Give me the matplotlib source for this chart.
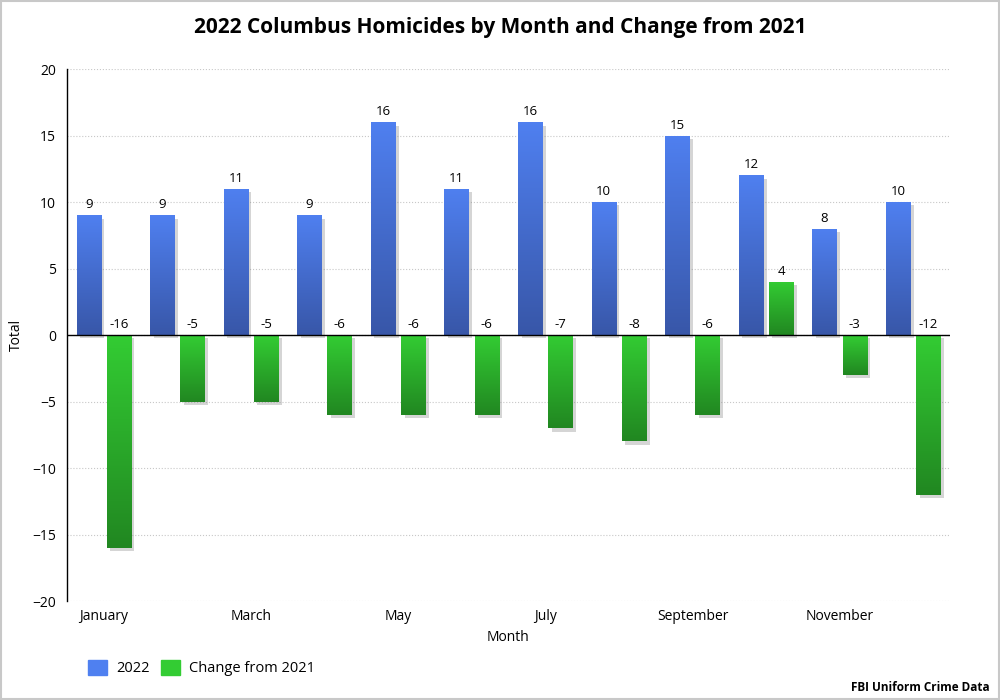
import matplotlib.pyplot as plt
import matplotlib.patheffects as pe
from matplotlib.patches import Rectangle
import numpy as np

plt.rcParams['font.family'] = ['Open Sans', 'DejaVu Sans']

months = ["January", "February", "March", "April", "May", "June", "July",
          "August", "September", "October", "November", "December"]
total_2022 = [9, 9, 11, 9, 16, 11, 16, 10, 15, 12, 8, 10]
change_2021 = [-16, -5, -5, -6, -6, -6, -7, -8, -6, 4, -3, -12]

fig = plt.figure(figsize=(10, 7), dpi=100)
fig.patches.append(Rectangle((0.001, 0.001), 0.998, 0.998, transform=fig.transFigure,
                             fill=False, edgecolor="#c8c8c8", linewidth=1.5))
ax = fig.add_axes([0.067, 0.1414, 0.883, 0.76])

x = np.arange(len(months))
w = 0.33
off = 0.04
blue_grad = np.array([[0.31, 0.50, 0.94], [0.22, 0.34, 0.66]])
green_grad = np.array([[0.20, 0.80, 0.20], [0.13, 0.53, 0.13]])


def grad_bars(xs, vals, cols):
    bars = ax.bar(xs, vals, width=w, color=tuple(cols[0]), zorder=3,
                  path_effects=[pe.SimplePatchShadow(offset=(2.5, -2.5), shadow_rgbFace="#888888", alpha=0.35),
                                pe.Normal()])
    for b, v in zip(bars, vals):
        x0, y0 = b.get_x(), b.get_y()
        bw, bh = b.get_width(), b.get_height()
        lo, hi = min(y0, y0 + bh), max(y0, y0 + bh)
        t = np.linspace(0, 1, 100)[:, None, None]
        img = cols[0][None, None, :] * (1 - t) + cols[1][None, None, :] * t
        im = ax.imshow(img, extent=(x0, x0 + bw, lo, hi), origin="upper", aspect="auto", zorder=4)
        im.set_clip_path(b)
        ypos = hi + 0.3 if v >= 0 else 0.3
        ax.text(x0 + bw / 2, ypos, str(v), ha="center", va="bottom", fontsize=9.5, zorder=5)
    return bars


grad_bars(x - w / 2 - off, total_2022, blue_grad)
grad_bars(x + w / 2 + off, change_2021, green_grad)

ax.set_xlim(-0.5, 11.5)
ax.set_ylim(-20, 20)
ax.set_yticks(range(-20, 21, 5))
ax.set_xticks(x[::2])
ax.set_xticklabels(months[::2], fontsize=10)
ax.tick_params(axis="x", length=0, pad=6)
ax.tick_params(axis="y", length=0, labelsize=10, pad=8)
ax.grid(axis="y", linestyle=":", color="#c8c8c8", linewidth=0.8, zorder=0)
ax.axhline(0, color="black", linewidth=1, zorder=6)
for s in ["top", "right", "bottom"]:
    ax.spines[s].set_visible(False)
ax.spines["left"].set_linewidth(1)
ax.set_xlabel("Month", fontsize=10, va="center")
ax.xaxis.set_label_coords(0.5, -0.0677)
ax.set_ylabel("Total", fontsize=10, va="center")
ax.yaxis.set_label_coords(-0.057, 0.5)

fig.suptitle("2022 Columbus Homicides by Month and Change from 2021",
             fontsize=15, fontweight="bold", y=0.975)

handles = [Rectangle((0, 0), 1, 1, color=tuple(blue_grad[0])),
           Rectangle((0, 0), 1, 1, color=tuple(green_grad[0]))]
fig.legend(handles, ["2022", "Change from 2021"], loc="center left",
           bbox_to_anchor=(0.075, 0.046), ncol=2, frameon=False, fontsize=10.5,
           handlelength=1.3, handleheight=1.2, columnspacing=0.8, handletextpad=0.6)
fig.text(0.99, 0.009, "FBI Uniform Crime Data", ha="right", va="bottom",
         fontsize=8.5, fontweight="bold")

fig.savefig("out.png", dpi=100)
